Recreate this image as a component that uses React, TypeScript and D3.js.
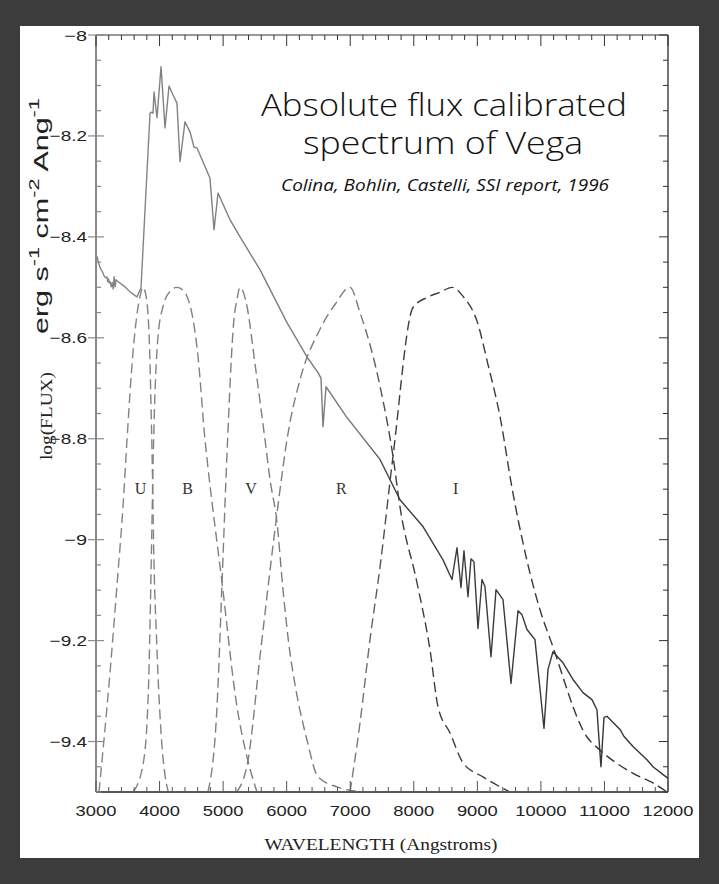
import React from 'react';
import * as d3 from 'd3';

// ---- Data ----
const spectrumWavelength = [
  3000, 3020, 3040, 3060, 3080, 3100, 3120, 3135, 3150, 3170, 3185, 3195, 3210, 3225, 3240, 3255,
  3270, 3285, 3300, 3315, 3330, 3456, 3535, 3645, 3708, 3850, 3865, 3897, 3913, 3960, 4023, 4086,
  4149, 4212, 4274, 4322, 4400, 4479, 4542, 4590, 4794, 4857, 4920, 5108, 5266, 5580, 6005, 6320,
  6493, 6540, 6572, 6619, 6949, 7468, 7783, 8145, 8460, 8601, 8680, 8743, 8790, 8853, 8900, 8947,
  9010, 9073, 9120, 9215, 9294, 9404, 9530, 9640, 9703, 9781, 9844, 9907, 10049, 10112, 10190,
  10348, 10505, 10662, 10804, 10882, 10945, 10993, 11040, 11245, 11308, 11449, 11669, 11764, 12000,
];
const spectrumLogFlux = [
  -8.436, -8.44, -8.452, -8.459, -8.465, -8.469, -8.475, -8.479, -8.481, -8.479, -8.489, -8.483,
  -8.491, -8.489, -8.499, -8.491, -8.503, -8.479, -8.499, -8.485, -8.487, -8.499, -8.509, -8.519,
  -8.501, -8.155, -8.153, -8.155, -8.113, -8.164, -8.063, -8.184, -8.101, -8.119, -8.135, -8.251,
  -8.172, -8.192, -8.222, -8.224, -8.284, -8.386, -8.313, -8.366, -8.4, -8.465, -8.57, -8.638,
  -8.669, -8.68, -8.776, -8.697, -8.758, -8.841, -8.921, -8.974, -9.04, -9.079, -9.016, -9.095,
  -9.022, -9.113, -9.038, -9.044, -9.176, -9.079, -9.093, -9.232, -9.099, -9.119, -9.285, -9.141,
  -9.149, -9.178, -9.188, -9.198, -9.374, -9.257, -9.222, -9.244, -9.277, -9.303, -9.317, -9.337,
  -9.45, -9.352, -9.35, -9.376, -9.39, -9.41, -9.436, -9.45, -9.473,
];

// Filter transmission curves (0..1, drawn from -9.5 to -8.5)
const uWavelength = [3047, 3220, 3346, 3425, 3488, 3582, 3692, 3740, 3802, 3850, 3870, 3890, 3905, 3954, 4033, 4090, 4138];
const uTransmission = [0, 0.236, 0.435, 0.565, 0.698, 0.871, 0.982, 1.0, 0.97, 0.85, 0.74, 0.62, 0.5, 0.3, 0.1, 0.03, 0];
const bWavelength = [3587, 3745, 3824, 3876, 3897, 3976, 4054, 4164, 4274, 4353, 4432, 4526, 4605, 4715, 4762, 4983, 5218, 5376, 5533];
const bTransmission = [0, 0.058, 0.2, 0.5, 0.643, 0.903, 0.962, 0.992, 1.0, 0.996, 0.982, 0.937, 0.863, 0.698, 0.643, 0.415, 0.169, 0.069, 0];
const vWavelength = [4762, 4904, 4983, 5061, 5171, 5218, 5266, 5376, 5500, 5659, 5738, 5848, 5942, 6052, 6100, 6320, 6493, 6792, 7201];
const vTransmission = [0, 0.169, 0.415, 0.67, 0.937, 0.976, 1.0, 0.962, 0.85, 0.698, 0.619, 0.534, 0.401, 0.276, 0.236, 0.103, 0.03, 0.01, 0];
const rWavelength = [5213, 5392, 5580, 5816, 5942, 6005, 6210, 6524, 6760, 6997, 7154, 7469, 7673, 7783, 8050, 8255, 8381, 8570, 8774, 9089, 9514];
const rTransmission = [0, 0.063, 0.268, 0.52, 0.643, 0.698, 0.817, 0.917, 0.966, 1.0, 0.95, 0.804, 0.665, 0.565, 0.415, 0.282, 0.169, 0.117, 0.058, 0.03, 0];
const iWavelength = [6997, 7154, 7311, 7469, 7673, 7988, 8208, 8410, 8601, 8775, 8995, 9168, 9357, 9545, 9986, 10169, 10720, 10930, 11193, 11451, 11764, 11984];
const iTransmission = [0, 0.137, 0.302, 0.446, 0.665, 0.96, 0.98, 0.99, 1.0, 0.982, 0.933, 0.847, 0.744, 0.603, 0.361, 0.295, 0.11, 0.083, 0.057, 0.037, 0.018, 0];

const bandNames = ['U', 'B', 'V', 'R', 'I'];
const bandLabelWavelength = [3700, 4440, 5440, 6860, 8660];
const bandLabelLevel = -8.91;

const xTickValues = [3000, 4000, 5000, 6000, 7000, 8000, 9000, 10000, 11000, 12000];
const xTickLabels = ['3000', '4000', '5000', '6000', '7000', '8000', '9000', '10000', '11000', '12000'];
const yTickValues = [-8, -8.2, -8.4, -8.6, -8.8, -9, -9.2, -9.4];
const yTickLabels = ['\u22128', '\u22128.2', '\u22128.4', '\u22128.6', '\u22128.8', '\u22129', '\u22129.2', '\u22129.4'];

// approximate rendered width of a tick label in the original (wide) face
function labelWidth(s: string): number {
  let w = 0;
  for (const c of s) {
    if (c === '\u2212') w += 12.5;
    else if (c === '.') w += 4.5;
    else w += 10.2;
  }
  return w;
}

export default function App() {
  const W = 719;
  const H = 884;
  const left = 96, right = 668, top = 35, bottom = 792;
  const x = d3.scaleLinear().domain([3000, 12000]).range([left, right]);
  const y = d3.scaleLinear().domain([-9.5, -8]).range([bottom, top]);

  const specPts: [number, number][] = spectrumWavelength.map((w, i) => [w, spectrumLogFlux[i]]);
  const specLine = d3.line<[number, number]>().x(d => x(d[0])).y(d => y(d[1]))(specPts) || '';

  const filterLine = d3
    .line<[number, number]>()
    .x(d => x(d[0]))
    .y(d => y(-9.5 + d[1]))
    .curve(d3.curveMonotoneX);
  const filters = [
    [uWavelength, uTransmission],
    [bWavelength, bTransmission],
    [vWavelength, vTransmission],
    [rWavelength, rTransmission],
    [iWavelength, iTransmission],
  ].map(([w, t]) => filterLine(w.map((v, i) => [v, t[i]] as [number, number])) || '');

  const xMinor = d3.range(3000, 12001, 200);
  const yMinor = d3.range(0, 31).map(i => -9.5 + i * 0.05);

  const tickFont = '"Liberation Sans", Arial, sans-serif';
  const titleFont = '"Open Sans", "DejaVu Sans", sans-serif';

  return (
    <svg width={W} height={H} style={{ position: 'absolute', left: 0, top: 0, display: 'block' }}>
      <defs>
        <linearGradient id="inkGrad" gradientUnits="userSpaceOnUse" x1={left} y1={0} x2={right} y2={0}>
          <stop offset="0" stopColor="#858585" />
          <stop offset="0.46" stopColor="#7a7a7a" />
          <stop offset="0.52" stopColor="#3e3e3e" />
          <stop offset="1" stopColor="#333333" />
        </linearGradient>
      </defs>
      <rect x={0} y={0} width={W} height={H} fill="#3c3c3c" />
      <rect x={20} y={26} width={679} height={832} fill="#ffffff" />

      {/* filter curves */}
      {filters.map((d, i) => (
        <path key={i} d={d} fill="none" stroke="url(#inkGrad)" strokeWidth={1.4} strokeDasharray="10,5" />
      ))}

      {/* spectrum */}
      <path d={specLine} fill="none" stroke="url(#inkGrad)" strokeWidth={1.4} strokeLinejoin="round" />

      {/* axes frame */}
      <line x1={left} x2={right} y1={top} y2={top} stroke="#333" strokeWidth={1.2} />
      <line x1={right} x2={right} y1={top} y2={bottom} stroke="#3a3a3a" strokeWidth={1.4} />
      <line x1={left} x2={right} y1={bottom} y2={bottom} stroke="#5a5a5a" strokeWidth={2} />
      <line x1={left} x2={left} y1={top} y2={bottom} stroke="#8a8a8a" strokeWidth={2} />

      {/* x ticks */}
      {xMinor.map(v => {
        const major = v % 1000 === 0;
        const len = major ? 11 : 5;
        return (
          <g key={'xt' + v}>
            <line x1={x(v)} x2={x(v)} y1={bottom} y2={bottom - len} stroke="#555" strokeWidth={1} />
            <line x1={x(v)} x2={x(v)} y1={top} y2={top + len} stroke="#333" strokeWidth={1} />
          </g>
        );
      })}
      {/* y ticks */}
      {yMinor.map((v, i) => {
        const major = i % 4 === 2 || i === 30;
        const len = major ? 9 : 5;
        return (
          <g key={'yt' + i}>
            <line x1={major ? left - 8 : left} x2={left + (major ? 8 : len)} y1={y(v)} y2={y(v)} stroke="#8a8a8a" strokeWidth={1.2} />
            <line x1={right} x2={right - len} y1={y(v)} y2={y(v)} stroke="#333" strokeWidth={1} />
          </g>
        );
      })}

      {/* tick labels */}
      {xTickValues.map((v, i) => (
        <text key={'xl' + v} x={x(v)} y={816} textAnchor="middle" fontFamily={tickFont} fontSize={15}
          textLength={labelWidth(xTickLabels[i])} lengthAdjust="spacingAndGlyphs" fill="#222">
          {xTickLabels[i]}
        </text>
      ))}
      {yTickValues.map((v, i) => (
        <text key={'yl' + v} x={87} y={y(v) + 5.5} textAnchor="end" fontFamily={tickFont} fontSize={15}
          textLength={labelWidth(yTickLabels[i])} lengthAdjust="spacingAndGlyphs" fill="#222">
          {yTickLabels[i]}
        </text>
      ))}

      {/* band labels */}
      {bandNames.map((n, i) => (
        <text key={n} x={x(bandLabelWavelength[i])} y={y(bandLabelLevel)} textAnchor="middle"
          fontFamily='"Liberation Serif", serif' fontSize={16} fill="#333">
          {n}
        </text>
      ))}

      {/* axis titles */}
      <text x={381} y={850} textAnchor="middle" fontFamily='"Liberation Serif", serif' fontSize={17}
        textLength={233} lengthAdjust="spacingAndGlyphs" fill="#222">
        WAVELENGTH (Angstroms)
      </text>
      <text transform="translate(52,416) rotate(-90)" textAnchor="middle" fontFamily='"Liberation Serif", serif'
        fontSize={16} textLength={88} lengthAdjust="spacingAndGlyphs" fill="#222">
        log(FLUX)
      </text>
      <text transform="translate(48,216) rotate(-90)" textAnchor="middle" fontFamily={tickFont} fontSize={21}
        textLength={236} lengthAdjust="spacingAndGlyphs" fill="#222">
        erg s
        <tspan dy={-9} fontSize={15}>-1</tspan>
        <tspan dy={9}> cm</tspan>
        <tspan dy={-9} fontSize={15}>-2</tspan>
        <tspan dy={9}> Ang</tspan>
        <tspan dy={-9} fontSize={15}>-1</tspan>
      </text>

      {/* title */}
      <text x={444} y={116} textAnchor="middle" fontFamily={titleFont} fontWeight={300} fontSize={31}
        textLength={366} lengthAdjust="spacingAndGlyphs" fill="#111">
        Absolute flux calibrated
      </text>
      <text x={443} y={154} textAnchor="middle" fontFamily={titleFont} fontWeight={300} fontSize={31}
        textLength={280} lengthAdjust="spacingAndGlyphs" fill="#111">
        spectrum of Vega
      </text>
      <text x={445} y={191} textAnchor="middle" fontFamily={titleFont} fontWeight={400} fontSize={16}
        fontStyle="italic" textLength={328} lengthAdjust="spacingAndGlyphs" fill="#111">
        Colina, Bohlin, Castelli, SSI report, 1996
      </text>
    </svg>
  );
}
